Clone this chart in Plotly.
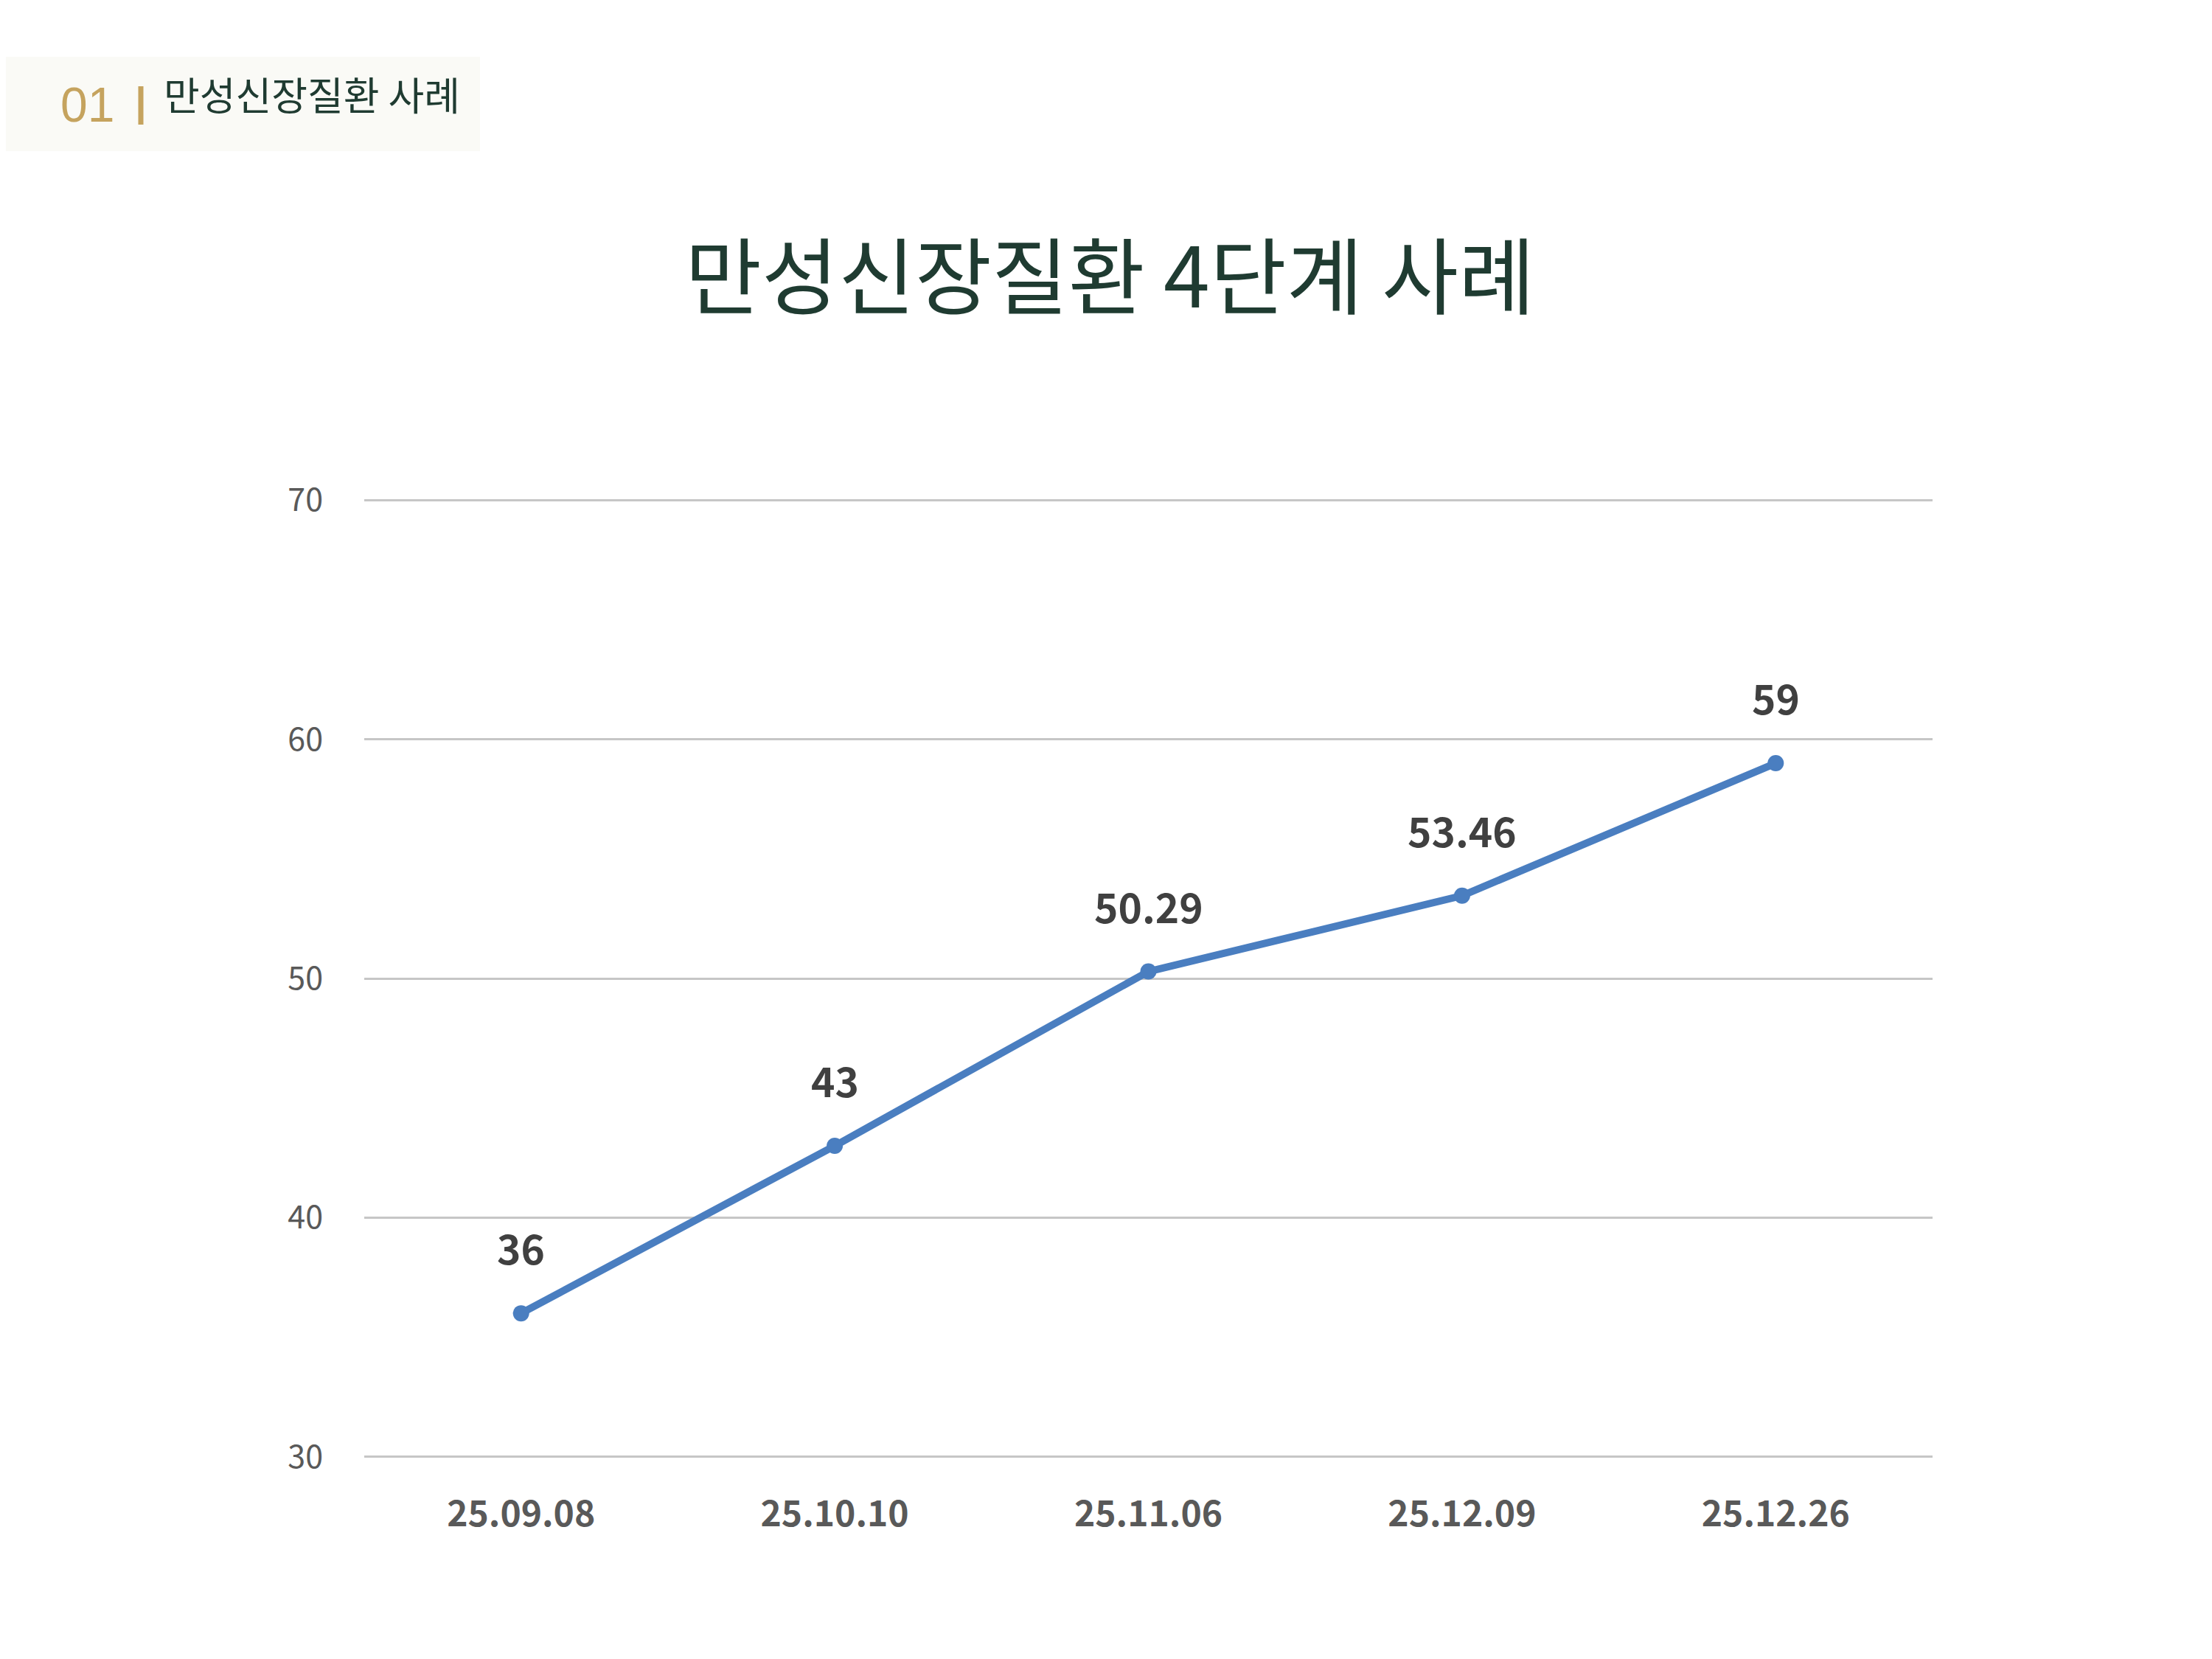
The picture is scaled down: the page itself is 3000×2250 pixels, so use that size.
import plotly.graph_objects as go

# chart data
dates = ["25.09.08", "25.10.10", "25.11.06", "25.12.09", "25.12.26"]
values = [36, 43, 50.29, 53.46, 59]
value_labels = ["36", "43", "50.29", "53.46", "59"]
y_ticks = [30, 40, 50, 60, 70]

title_text = "만성신장질환 4단계 사례"
section_no = "01"
section_text = "만성신장질환 사례"

W, H = 3000, 2250
L, R, T, B = 486, 387, 667, 279

GREEN = "#1F3B31"
GOLD = "#C5A35E"
BLUE = "#4A7EC0"
KR_FONT = "Noto Sans CJK KR, Noto Sans, sans-serif"


def paper_x(px):
    """convert a pixel x position into paper coordinates"""
    return (px - L) / (W - L - R)


def paper_y(py):
    """convert a pixel y position (from top) into paper coordinates"""
    return (H - B - py) / (H - T - B)


def create_plot():
    fig = go.Figure()
    fig.add_trace(go.Scatter(
        x=dates, y=values, mode="lines+markers",
        line=dict(color=BLUE, width=10),
        marker=dict(color=BLUE, size=22),
        cliponaxis=False, hoverinfo="x+y"))

    # value labels above the points
    for d, v, t in zip(dates, values, value_labels):
        fig.add_annotation(x=d, y=v, text=t, showarrow=False,
                           yshift=90, yanchor="middle",
                           font=dict(family=KR_FONT, size=55, color="#404040", weight="bold"))

    # header box in the top-left corner
    fig.add_shape(type="rect", xref="paper", yref="paper",
                  x0=paper_x(0), x1=paper_x(643), y0=paper_y(197), y1=paper_y(69),
                  fillcolor="#FAFAF6", line_width=0, layer="below")
    fig.add_annotation(xref="paper", yref="paper", x=paper_x(72), y=paper_y(134),
                       xanchor="left", yanchor="middle", showarrow=False, text=section_no,
                       font=dict(family="Liberation Sans, Arial, sans-serif", size=66, color=GOLD))
    fig.add_shape(type="line", xref="paper", yref="paper",
                  x0=paper_x(183), x1=paper_x(183), y0=paper_y(161), y1=paper_y(109),
                  line=dict(color=GOLD, width=7))
    fig.add_annotation(xref="paper", yref="paper", x=paper_x(212), y=paper_y(119),
                       xanchor="left", yanchor="middle", showarrow=False, text=section_text,
                       font=dict(family=KR_FONT, size=53, color=GREEN))

    # main title
    fig.add_annotation(xref="paper", yref="paper", x=paper_x(1497), y=paper_y(360),
                       xanchor="center", yanchor="middle", showarrow=False, text=title_text,
                       font=dict(family=KR_FONT, size=113, color=GREEN))

    fig.update_xaxes(type="category", range=[-0.5, 4.5],
                     showgrid=False, showline=False, zeroline=False, ticks="",
                     ticklabelstandoff=42,
                     tickfont=dict(family=KR_FONT, size=48, color="#595959", weight="bold"))
    fig.update_yaxes(range=[29.9, 70.1], tickvals=y_ticks,
                     showgrid=True, gridcolor="#C6C6C6", gridwidth=3,
                     showline=False, zeroline=False, ticks="",
                     ticklabelstandoff=55,
                     tickfont=dict(family=KR_FONT, size=43, color="#595959"))
    fig.update_layout(width=W, height=H,
                      margin=dict(l=L, r=R, t=T, b=B),
                      paper_bgcolor="white", plot_bgcolor="white",
                      showlegend=False)
    fig.write_html("out.html")


def main():
    create_plot()


if __name__ == '__main__':
    main()
